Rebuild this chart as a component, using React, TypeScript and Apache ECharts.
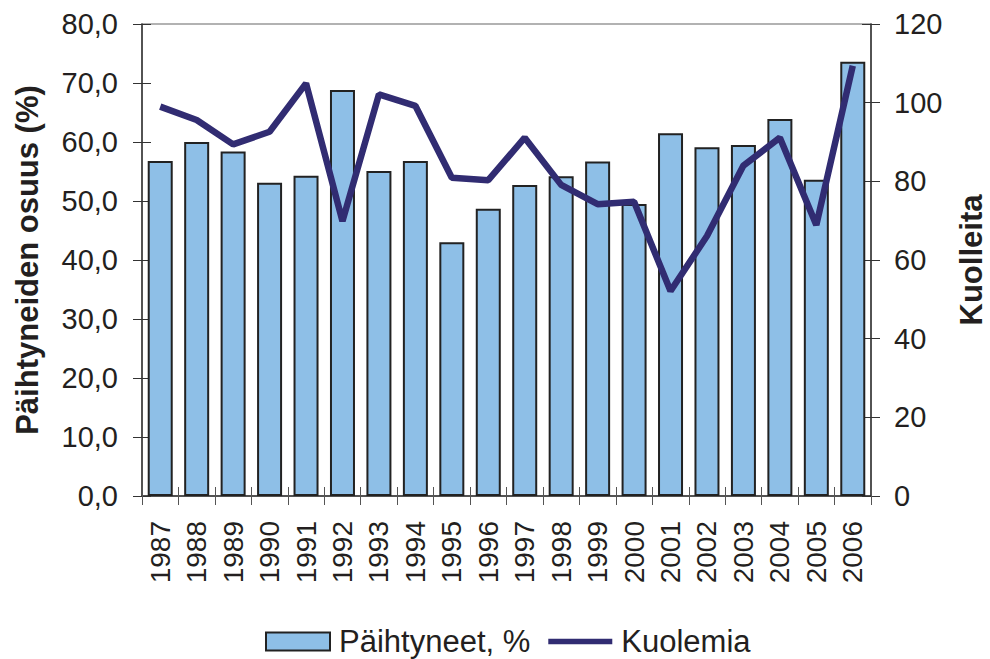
import React, { useEffect, useRef } from "react";
import * as echarts from "echarts";

const years = ["1987","1988","1989","1990","1991","1992","1993","1994","1995","1996","1997","1998","1999","2000","2001","2002","2003","2004","2005","2006"];
const paihtyneet = [56.8, 60.0, 58.4, 53.1, 54.3, 68.8, 55.1, 56.8, 43.0, 48.7, 52.7, 54.2, 56.7, 49.5, 61.5, 59.1, 59.5, 63.9, 53.6, 73.6];
const kuolemia = [99, 95.6, 89.4, 92.6, 104.9, 69.9, 102.1, 99.2, 80.9, 80.3, 91.1, 79.1, 74.2, 74.8, 52.1, 66.1, 84.0, 91.1, 68.9, 109.4];

const FONT = "'Liberation Sans', Arial, sans-serif";
const TXT = "#231F20";
const BAR = "#8EBFE7";
const LINE = "#312C72";

export default function App() {
  const ref = useRef<HTMLDivElement>(null);
  useEffect(() => {
    if (!ref.current) return;
    const chart = echarts.init(ref.current, undefined, { renderer: "svg" });
    const axisLine = { show: true, lineStyle: { color: "#333", width: 1.5 } };
    chart.setOption({
      animation: false,
      textStyle: { fontFamily: FONT, color: TXT },
      grid: {
        left: 142, right: 119, top: 24, bottom: 163,
        containLabel: false, outerBoundsMode: "none",
        show: true, borderColor: "#999", borderWidth: 1.5,
      },
      legend: {
        top: 621,
        left: 260,
        itemWidth: 64,
        itemHeight: 18,
        itemGap: 18,
        textStyle: { fontSize: 31, color: TXT, fontFamily: FONT, padding: [0, 0, 0, 4] },
        data: [
          { name: "Päihtyneet, %", icon: "rect", itemStyle: { color: BAR, borderColor: "#222", borderWidth: 2 } },
          { name: "Kuolemia", icon: "path://M0,0H70V6H0Z", itemStyle: { color: LINE } },
        ],
      },
      xAxis: [
        {
          type: "category",
          data: years,
          boundaryGap: true,
          axisLine,
          axisTick: { show: true, length: 9, alignWithLabel: false, interval: 0, lineStyle: { color: "#555" } },
          axisLabel: { rotate: 90, interval: 0, fontSize: 28, color: TXT, margin: 25, fontFamily: FONT },
        },
        {
          type: "category",
          data: years,
          position: "bottom",
          boundaryGap: true,
          axisLine: { show: false },
          axisTick: { show: true, inside: true, interval: 0, length: 9, lineStyle: { color: "#555" } },
          axisLabel: { show: false },
        },
      ],
      yAxis: [
        {
          type: "value",
          min: 0, max: 80, interval: 10,
          position: "left",
          splitLine: { show: false },
          axisLine,
          axisTick: { show: true, length: 9, lineStyle: { color: "#333" } },
          axisLabel: { fontSize: 29, color: TXT, margin: 24, fontFamily: FONT, formatter: (v: number) => v.toFixed(1).replace(".", ",") },
          name: "Päihtyneiden osuus (%)",
          nameLocation: "middle",
          nameRotate: 90,
          nameGap: 99,
          nameTextStyle: { fontSize: 31, fontWeight: "bold", color: TXT, fontFamily: FONT },
        },
        {
          type: "value",
          min: 0, max: 120, interval: 20,
          position: "right",
          splitLine: { show: false },
          axisLine,
          axisTick: { show: true, length: 9, lineStyle: { color: "#333" } },
          axisLabel: { fontSize: 29, color: TXT, margin: 23, fontFamily: FONT },
          name: "Kuolleita",
          nameLocation: "middle",
          nameRotate: 90,
          nameGap: 86,
          nameTextStyle: { fontSize: 31, fontWeight: "bold", color: TXT, fontFamily: FONT, lineHeight: 28 },
        },
        {
          type: "value",
          min: 0, max: 80, interval: 10,
          position: "left",
          splitLine: { show: false },
          axisLine: { show: false },
          axisTick: { show: true, inside: true, length: 9, lineStyle: { color: "#333" } },
          axisLabel: { show: false },
        },
        {
          type: "value",
          min: 0, max: 120, interval: 20,
          position: "right",
          splitLine: { show: false },
          axisLine: { show: false },
          axisTick: { show: true, inside: true, length: 9, lineStyle: { color: "#333" } },
          axisLabel: { show: false },
        },
      ],
      series: [
        {
          name: "Päihtyneet, %",
          type: "bar",
          data: paihtyneet,
          xAxisIndex: 0,
          yAxisIndex: 0,
          barWidth: 25,
          itemStyle: { color: BAR, borderColor: "#222", borderWidth: 2 },
        },
        {
          name: "Kuolemia",
          type: "line",
          data: kuolemia,
          xAxisIndex: 0,
          yAxisIndex: 1,
          symbol: "none",
          lineStyle: { color: LINE, width: 6.5 },
          itemStyle: { color: LINE },
        },
      ],
    });
    return () => chart.dispose();
  }, []);
  return <div ref={ref} style={{ position: "fixed", left: 0, top: 0, width: 990, height: 659, background: "#fff" }} />;
}
